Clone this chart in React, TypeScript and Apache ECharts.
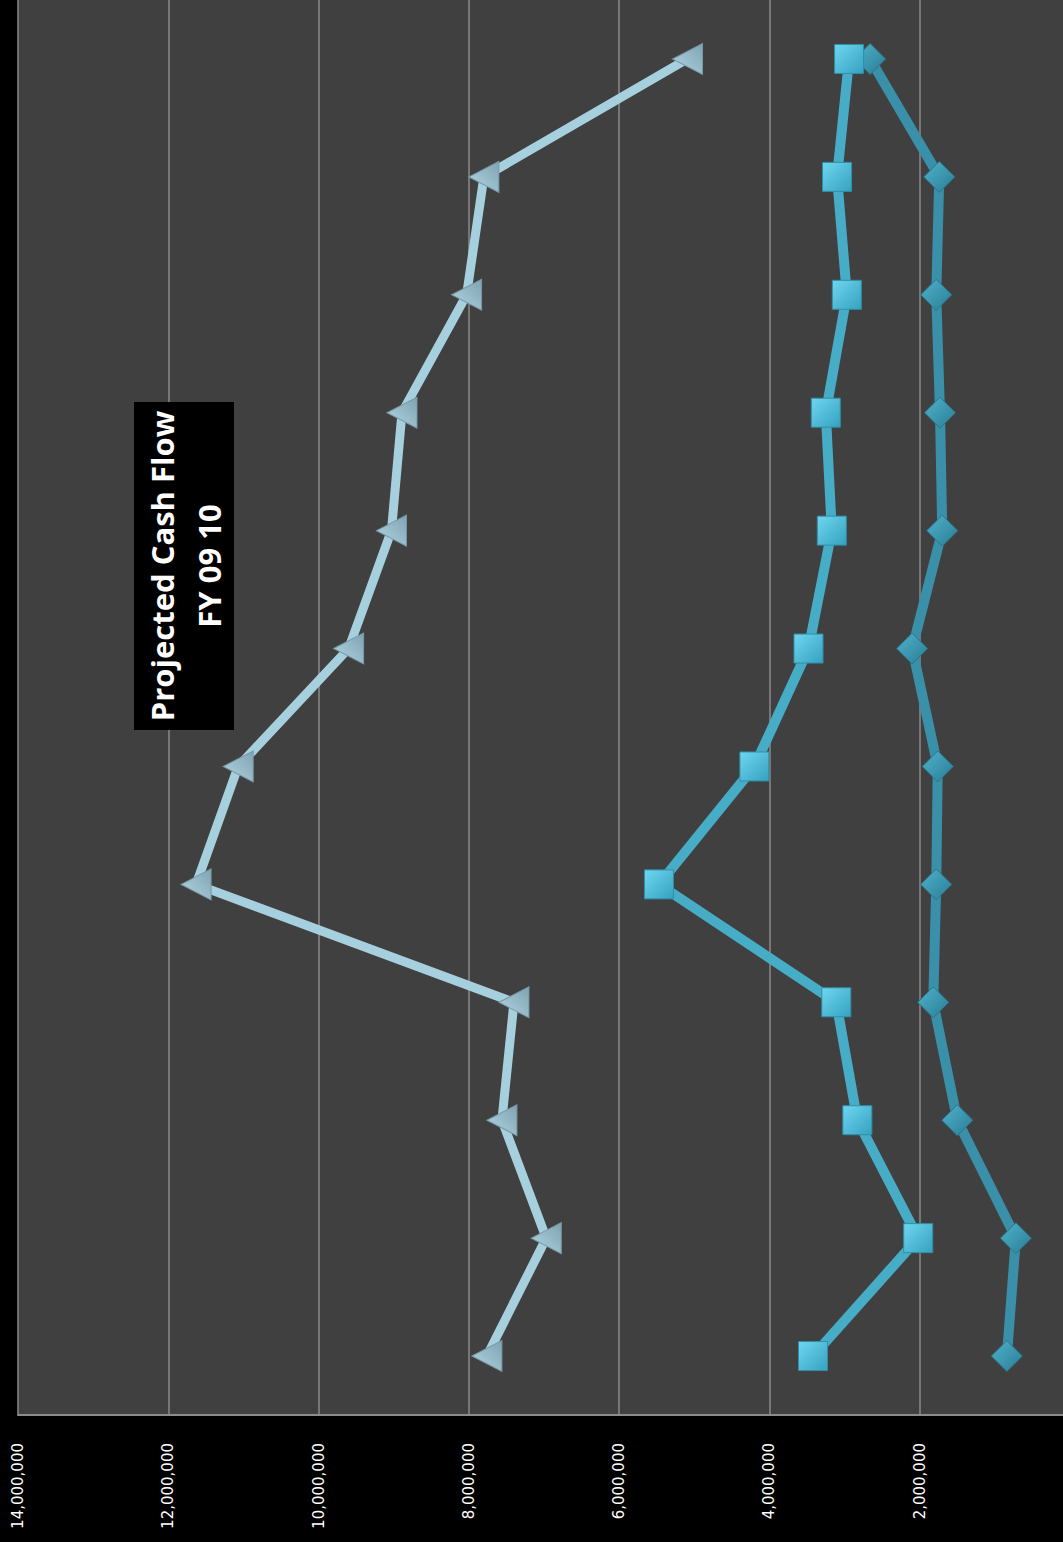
import React, { useEffect, useRef } from "react";
import * as echarts from "echarts";

// Categories (first category at the bottom of the rotated chart)
const categories = ["Jul", "Aug", "Sep", "Oct", "Nov", "Dec", "Jan", "Feb", "Mar", "Apr", "May", "Jun"];
// Series values (bottom to top)
const seriesTriangle = [7760000, 6970000, 7560000, 7400000, 11630000, 11070000, 9600000, 9030000, 8890000, 8030000, 7800000, 5090000];
const seriesSquare = [3420000, 2020000, 2830000, 3110000, 5470000, 4200000, 3480000, 3170000, 3250000, 2970000, 3100000, 2940000];
const seriesDiamond = [840000, 720000, 1500000, 1820000, 1780000, 1760000, 2100000, 1700000, 1730000, 1780000, 1740000, 2660000];
const titleLines = ["Projected Cash Flow", "FY 09 10"];

export default function App() {
  const ref = useRef<HTMLDivElement>(null);
  useEffect(() => {
    if (!ref.current) return;
    const chart = echarts.init(ref.current, null, { renderer: "svg" });
    const grad = (a: string, b: string) =>
      new echarts.graphic.LinearGradient(0, 0, 1, 1, [
        { offset: 0, color: a },
        { offset: 1, color: b },
      ]);
    chart.setOption({
      animation: false,
      backgroundColor: "#000000",
      grid: {
        left: 18,
        right: 0,
        top: 0,
        bottom: 127,
        show: true,
        backgroundColor: "#404040",
        borderWidth: 0,
      },
      xAxis: {
        type: "value",
        inverse: true,
        min: 0,
        max: 14000000,
        interval: 2000000,
        position: "bottom",
        axisLine: { show: true, lineStyle: { color: "#8c8c8c", width: 2 } },
        axisTick: { show: false },
        splitLine: { show: true, lineStyle: { color: "#8a8a8a", width: 1.5 } },
        axisLabel: {
          show: true,
          rotate: 90,
          margin: 28,
          color: "#ffffff",
          fontSize: 15,
          fontFamily: "DejaVu Sans",
          showMinLabel: true,
          formatter: (v: number) => (v === 0 ? "" : v.toLocaleString("en-US")),
        },
      },
      yAxis: {
        type: "category",
        data: categories,
        boundaryGap: true,
        axisLine: { show: false },
        axisTick: { show: false },
        axisLabel: { show: false },
        splitLine: { show: false },
      },
      series: [
        {
          type: "line",
          data: seriesDiamond,
          symbol: "diamond",
          symbolSize: [31, 31],
          lineStyle: { color: "#3a90a8", width: 10 },
          itemStyle: { color: grad("#4fb2cc", "#2a7d94"), borderColor: "#2a7489", borderWidth: 1 },
          z: 2,
        },
        {
          type: "line",
          data: seriesSquare,
          symbol: "rect",
          symbolSize: [29, 29],
          lineStyle: { color: "#47adc7", width: 10 },
          itemStyle: { color: grad("#6fd6f0", "#35a2c0"), borderColor: "#2e8fa8", borderWidth: 1 },
          z: 3,
        },
        {
          type: "line",
          data: seriesTriangle,
          symbol: "triangle",
          symbolRotate: 90,
          symbolSize: [31, 30],
          lineStyle: { color: "#a7d0de", width: 9 },
          itemStyle: { color: grad("#b4d6e3", "#7ea3b2"), borderColor: "#7898a6", borderWidth: 1 },
          z: 4,
        },
      ],
      graphic: [
        {
          type: "rect",
          shape: { x: 134, y: 402, width: 100, height: 328 },
          style: { fill: "#000000" },
          z: 100,
        },
        {
          type: "text",
          x: 185,
          y: 566,
          rotation: Math.PI / 2,
          style: {
            text: titleLines.join("\n"),
            fill: "#ffffff",
            font: "bold 31px 'Open Sans'",
            lineHeight: 47,
            textAlign: "center",
            textVerticalAlign: "middle",
          },
          z: 101,
        },
      ],
    });
    return () => chart.dispose();
  }, []);
  return (
    <div style={{ position: "fixed", left: 0, top: 0, width: 1063, height: 1542, overflow: "hidden", background: "#000" }}>
      <div ref={ref} style={{ width: 1070, height: 1542 }} />
    </div>
  );
}
